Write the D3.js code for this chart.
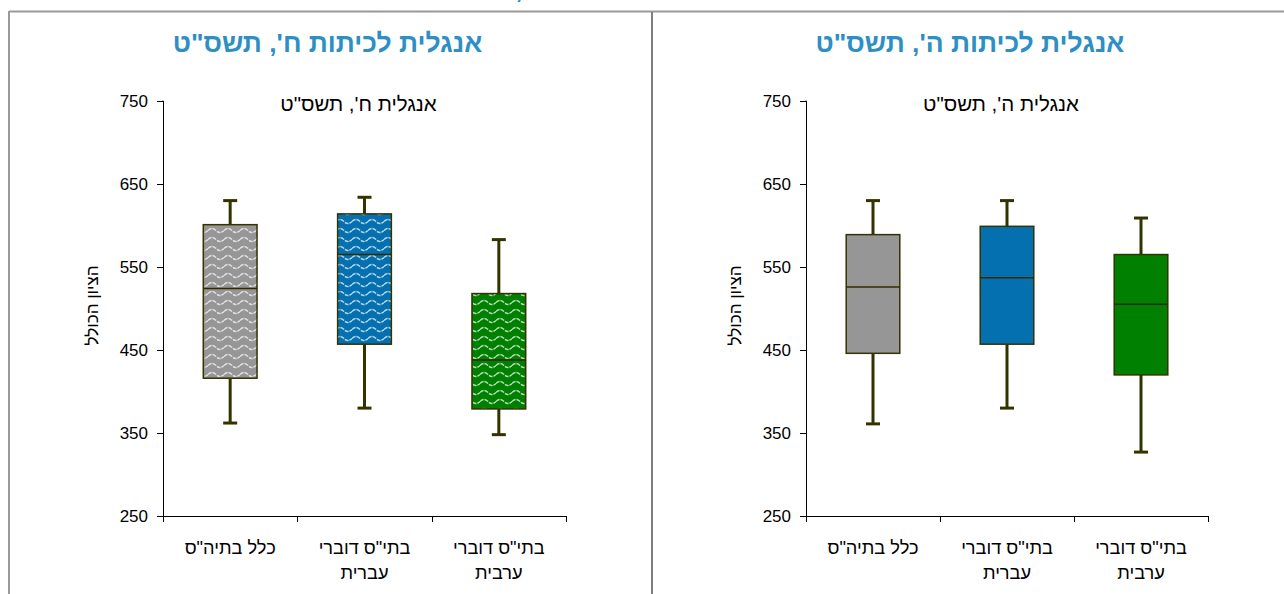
<!DOCTYPE html>
<html><head><meta charset="utf-8">
<script src="https://cdn.jsdelivr.net/npm/d3@7"></script>
<style>
html,body{margin:0;padding:0;background:#fff;}
svg{display:block;font-family:"Liberation Sans",Arial,sans-serif;}
</style></head>
<body>
<svg id="chart" width="1284" height="594"></svg>
<script>
// ---- data ----
const categories = [["כלל בתיה\"ס"], ["בתי\"ס דוברי", "עברית"], ["בתי\"ס דוברי", "ערבית"]];
const colors = ["#969696", "#0570B0", "#008000"];
const yTicks = [250, 350, 450, 550, 650, 750];
// [whisker low, Q1, median, Q3, whisker high]
const grade8 = [
  [362, 416, 524, 601, 630],
  [380, 457, 565, 614, 634],
  [348, 379, 438, 518, 583]
];
const grade5 = [
  [361, 446, 526, 589, 630],
  [380, 457, 537, 599, 630],
  [327, 420, 505, 565, 609]
];
const panelTitles = ["אנגלית לכיתות ח', תשס\"ט", "אנגלית לכיתות ה', תשס\"ט"];
const plotTitles = ["אנגלית ח', תשס\"ט", "אנגלית ה', תשס\"ט"];
const yLabel = "הציון הכולל";
const topTitle = "התפלגות הציונים באנגלית לפי מגזר, מיצ\"ב תשס\"ט";

const svg = d3.select("#chart");
const defs = svg.append("defs");
const stroke = "#333300";

// wave patterns
colors.forEach((c, i) => {
  const p = defs.append("pattern").attr("id", "wave" + i)
    .attr("patternUnits", "userSpaceOnUse").attr("width", 16).attr("height", 9);
  p.append("rect").attr("width", 16).attr("height", 9).attr("fill", c);
  p.append("path").attr("d", "M0,5.5 Q4,1.5 8,5.5 T16,5.5")
    .attr("fill", "none").attr("stroke", "#fff").attr("stroke-opacity", 0.72).attr("stroke-width", 1.5)
    .attr("stroke-dasharray", "4,1");
});

// frame
svg.append("text").attr("x", 640).attr("y", -2).attr("text-anchor", "middle").attr("direction", "rtl")
  .attr("font-size", 26).attr("font-weight", "bold").attr("fill", "#2E8FC4").text(topTitle);
svg.append("line").attr("x1", 9).attr("x2", 1284).attr("y1", 11.5).attr("y2", 11.5).attr("stroke", "#999").attr("stroke-width", 2);
svg.append("line").attr("x1", 9).attr("x2", 9).attr("y1", 11).attr("y2", 594).attr("stroke", "#999").attr("stroke-width", 2);
svg.append("line").attr("x1", 652).attr("x2", 652).attr("y1", 12).attr("y2", 594).attr("stroke", "#808080").attr("stroke-width", 2);

function panel(x0, x1, data, title, plotTitle, patterned) {
  const y = d3.scaleLinear().domain([250, 750]).range([516, 101]);
  const x = d3.scaleBand().domain(d3.range(categories.length)).range([x0, x1]).padding(0);
  const g = svg.append("g");

  g.append("text").attr("x", (x0 + x1) / 2 - 37).attr("y", 52).attr("text-anchor", "middle").attr("direction", "rtl")
    .attr("font-size", 26.5).attr("font-weight", "bold").attr("fill", "#2E8FC4").text(title);
  g.append("text").attr("x", (x0 + x1) / 2 - 6).attr("y", 111).attr("text-anchor", "middle").attr("direction", "rtl")
    .attr("font-size", 20.5).attr("fill", "#000").text(plotTitle);

  // y axis
  const ya = g.append("g").attr("transform", `translate(${x0},0)`)
    .call(d3.axisLeft(y).tickValues(yTicks).tickSize(6).tickPadding(9).tickFormat(d3.format("d")));
  ya.select(".domain").attr("stroke", "#000").attr("d", `M-0.5,${y(750)}H0.5V${y(250)}`);
  ya.selectAll("text").attr("font-size", 17).attr("fill", "#000").attr("font-family", "Liberation Sans, Arial");
  ya.selectAll(".tick line").attr("stroke", "#000");

  // x axis
  const xa = g.append("g").attr("transform", `translate(0,${y(250)})`);
  xa.append("line").attr("x1", x0).attr("x2", x1).attr("y1", 0.5).attr("y2", 0.5).attr("stroke", "#000");
  const edges = d3.range(categories.length + 1).map(i => i < categories.length ? x(i) : x1);
  xa.selectAll("line.tk").data(edges).join("line").attr("class", "tk")
    .attr("x1", d => Math.round(d) + 0.5).attr("x2", d => Math.round(d) + 0.5).attr("y1", 0).attr("y2", 6).attr("stroke", "#000");
  categories.forEach((lines, i) => {
    const t = xa.append("text").attr("text-anchor", "middle").attr("direction", "rtl")
      .attr("font-size", 18.2).attr("fill", "#000");
    lines.forEach((l, j) => t.append("tspan").attr("x", x(i) + x.bandwidth() / 2).attr("y", 38 + j * 25).text(l));
  });

  // y label
  g.append("text").attr("transform", `translate(${x0 - 65},${(y(750) + y(250)) / 2 - 3}) rotate(-90)`)
    .attr("text-anchor", "middle").attr("direction", "rtl").attr("font-size", 17).attr("fill", "#000").text(yLabel);

  // boxes
  const bw = x.bandwidth() * 0.4;
  data.forEach((d, i) => {
    const cx = x(i) + x.bandwidth() / 2;
    const [lo, q1, med, q3, hi] = d;
    g.append("line").attr("x1", cx).attr("x2", cx).attr("y1", y(hi)).attr("y2", y(lo)).attr("stroke", stroke).attr("stroke-width", 3);
    [lo, hi].forEach(v => g.append("line").attr("x1", cx - 7).attr("x2", cx + 7).attr("y1", y(v)).attr("y2", y(v))
      .attr("stroke", stroke).attr("stroke-width", 3));
    g.append("rect").attr("x", cx - bw / 2).attr("y", y(q3)).attr("width", bw).attr("height", y(q1) - y(q3))
      .attr("fill", patterned ? `url(#wave${i})` : colors[i]).attr("stroke", stroke).attr("stroke-width", 1.5);
    g.append("line").attr("x1", cx - bw / 2).attr("x2", cx + bw / 2).attr("y1", y(med)).attr("y2", y(med))
      .attr("stroke", "#332a00").attr("stroke-width", 1.5);
  });
}

panel(163, 566, grade8, panelTitles[0], plotTitles[0], true);
panel(806, 1208, grade5, panelTitles[1], plotTitles[1], false);
</script>
</body></html>
